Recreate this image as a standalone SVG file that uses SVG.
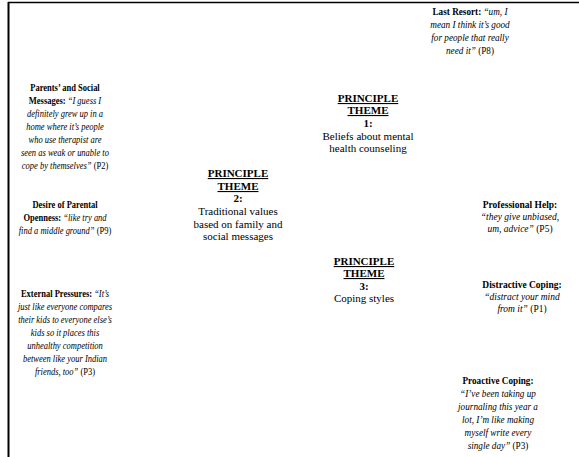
<svg xmlns="http://www.w3.org/2000/svg" width="579" height="457" viewBox="0 0 579 457">
<style>
text{font-family:"Liberation Serif","Times New Roman",serif;font-size:10px;fill:#000;text-anchor:middle}
.t text{font-size:11px}
.b{font-weight:bold}
.i{font-style:italic}
.u{text-decoration:underline}
</style>
<rect x="0" y="0" width="579" height="457" fill="#fff"/>
<g id="frame" stroke="#000" fill="none">
<line x1="8" y1="2.5" x2="579" y2="2.5" stroke-width="1.5"/>
<line x1="8.5" y1="2" x2="8.5" y2="457" stroke-width="2"/>
</g>
<g id="connectors"/>
<g id="last-resort" transform="translate(470 0) scale(0.92 1)">
<text x="0" y="15"><tspan class="b">Last Resort: </tspan><tspan class="i">“um, I</tspan></text>
<text x="0" y="28" class="i">mean I think it’s good</text>
<text x="0" y="41" class="i">for people that really</text>
<text x="0" y="54"><tspan class="i">need it”</tspan> (P8)</text>
</g>
<g id="parents-social" transform="translate(65 0) scale(0.85 1)">
<text x="0" y="91" class="b">Parents’ and Social</text>
<text x="0" y="104"><tspan class="b">Messages: </tspan><tspan class="i">“I guess I</tspan></text>
<text x="0" y="117" class="i">definitely grew up in a</text>
<text x="0" y="130" class="i">home where it’s people</text>
<text x="0" y="143" class="i">who use therapist are</text>
<text x="0" y="156" class="i">seen as weak or unable to</text>
<text x="0" y="169"><tspan class="i">cope by themselves”</tspan> (P2)</text>
</g>
<g id="desire-openness" transform="translate(65 0) scale(0.85 1)">
<text x="0" y="208" class="b">Desire of Parental</text>
<text x="0" y="221"><tspan class="b">Openness: </tspan><tspan class="i">“like try and</tspan></text>
<text x="0" y="234"><tspan class="i">find a middle ground”</tspan> (P9)</text>
</g>
<g id="external-pressures" transform="translate(65 0) scale(0.85 1)">
<text x="0" y="297"><tspan class="b">External Pressures: </tspan><tspan class="i">“It’s</tspan></text>
<text x="0" y="310" class="i">just like everyone compares</text>
<text x="0" y="323" class="i">their kids to everyone else’s</text>
<text x="0" y="336" class="i">kids so it places this</text>
<text x="0" y="349" class="i">unhealthy competition</text>
<text x="0" y="362" class="i">between like your Indian</text>
<text x="0" y="375"><tspan class="i">friends, too”</tspan> (P3)</text>
</g>
<g id="theme-2" class="t">
<text x="238" y="177" class="b u">PRINCIPLE</text>
<text x="238" y="190" class="b u">THEME</text>
<text x="238" y="202" class="b">2:</text>
<text x="238" y="215">Traditional values</text>
<text x="238" y="228">based on family and</text>
<text x="238" y="240">social messages</text>
</g>
<g id="theme-1" class="t">
<text x="368" y="102" class="b u">PRINCIPLE</text>
<text x="368" y="114" class="b u">THEME</text>
<text x="368" y="127" class="b">1:</text>
<text x="368" y="140">Beliefs about mental</text>
<text x="368" y="152">health counseling</text>
</g>
<g id="theme-3" class="t">
<text x="364" y="265" class="b u">PRINCIPLE</text>
<text x="364" y="277" class="b u">THEME</text>
<text x="364" y="290" class="b">3:</text>
<text x="364" y="302">Coping styles</text>
</g>
<g id="professional-help" transform="translate(520 0) scale(0.95 1)">
<text x="0" y="208" class="b">Professional Help:</text>
<text x="0" y="220" class="i">“they give unbiased,</text>
<text x="0" y="232"><tspan class="i">um, advice”</tspan> (P5)</text>
</g>
<g id="distractive-coping" transform="translate(522 0) scale(0.95 1)">
<text x="0" y="288" class="b">Distractive Coping:</text>
<text x="0" y="300" class="i">“distract your mind</text>
<text x="0" y="312"><tspan class="i">from it”</tspan> (P1)</text>
</g>
<g id="proactive-coping" transform="translate(498 0) scale(0.92 1)">
<text x="0" y="384" class="b">Proactive Coping:</text>
<text x="0" y="397" class="i">“I’ve been taking up</text>
<text x="0" y="410" class="i">journaling this year a</text>
<text x="0" y="423" class="i">lot, I’m like making</text>
<text x="0" y="436" class="i">myself write every</text>
<text x="0" y="449"><tspan class="i">single day”</tspan> (P3)</text>
</g>
</svg>
